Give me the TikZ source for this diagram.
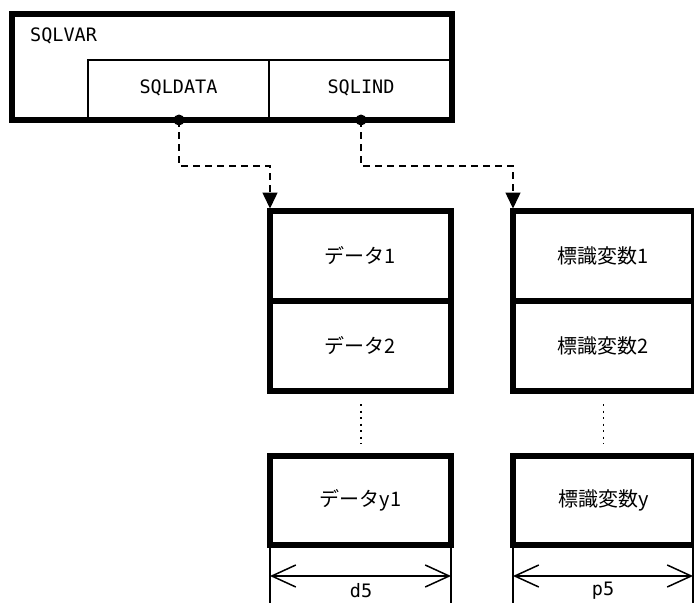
\documentclass[tikz,border=0pt]{standalone}
\usepackage{fontspec}
\setmainfont{Noto Sans CJK JP}
\newfontfamily\monof{DejaVu Sans Mono}
\usetikzlibrary{arrows.meta}
\begin{document}
\begin{tikzpicture}[x=1pt,y=-1pt,
  thickbox/.style={draw,line width=5.5pt,minimum width=181pt,minimum height=90pt,inner sep=0pt,outer sep=0pt,font=\fontsize{20}{24}\selectfont},
  thin/.style={line width=1.5pt},
  lbl/.style={font=\monof\fontsize{18.5}{20}\selectfont,inner sep=0pt},
  link/.style={dashed,dash pattern=on 7pt off 5pt,line width=1.5pt,-{Triangle[length=16pt,width=15pt]}},
  dimline/.style={line width=1.5pt,{Straight Barb[length=24pt,width=22pt]}-{Straight Barb[length=24pt,width=22pt]}},
  dots/.style={line width=1.8pt,dash pattern=on 2pt off 4.5pt}]
\useasboundingbox (0,0) rectangle (694,603);
% SQLVAR structure
\node[draw,line width=5.5pt,minimum width=440pt,minimum height=106pt,inner sep=0pt,outer sep=0pt] (sqlvar) at (232,67) {};
\node[lbl,anchor=west] (sqlvarlbl) at (30,36) {SQLVAR};
\draw[thin] (88,120) -- (88,60) -- (452,60);
\draw[thin] (269,60) -- (269,120);
\node[lbl] (sqldata) at (178.5,88) {SQLDATA};
\node[lbl] (sqlind) at (361,88) {SQLIND};
\coordinate (p1) at (179,120);
\coordinate (p2) at (361,120);
\fill (p1) circle (5.5pt);
\fill (p2) circle (5.5pt);
% data column
\node[thickbox] (d1) at (360.5,256) {データ1};
\node[thickbox] (d2) at (360.5,346) {データ2};
\node[thickbox,minimum height=89pt] (dy) at (360.5,500.5) {データy1};
% indicator column
\node[thickbox] (i1) at (603.5,256) {標識変数1};
\node[thickbox] (i2) at (603.5,346) {標識変数2};
\node[thickbox,minimum height=89pt] (iy) at (603.5,500.5) {標識変数y};
% pointers
\draw[link,shorten >=2.5pt] (p1) -- (179,166) -- (d1.north west |- 0,166) -- (d1.north west);
\draw[link,shorten >=2.5pt] (p2) -- (361,166) -- (i1.north west |- 0,166) -- (i1.north west);
% continuation dots
\coordinate (c1a) at (361,404);
\coordinate (c1b) at (361,444);
\coordinate (c2a) at (603.5,404);
\coordinate (c2b) at (603.5,444);
\draw[dots] (c1a) -- (c1b);
\draw[dots] (c2a) -- (c2b);
% dimension lines
\coordinate (e1) at (270,603);
\coordinate (e2) at (451,603);
\coordinate (e3) at (513,603);
\coordinate (e4) at (693,603);
\draw[thin] (dy.south west) -- (e1);
\draw[thin] (dy.south east) -- (e2);
\draw[thin] (iy.south west) -- (e3);
\draw[thin] (693,545) -- (e4);
\coordinate (a1) at (270,576);
\coordinate (a2) at (451,576);
\coordinate (a3) at (513,576);
\coordinate (a4) at (693,576);
\draw[dimline] (a1) -- (a2);
\draw[dimline] (a3) -- (a4);
\node[lbl] (dlbl) at (361,591) {d5};
\node[lbl] (plbl) at (603,591) {p5};
\end{tikzpicture}
\end{document}
